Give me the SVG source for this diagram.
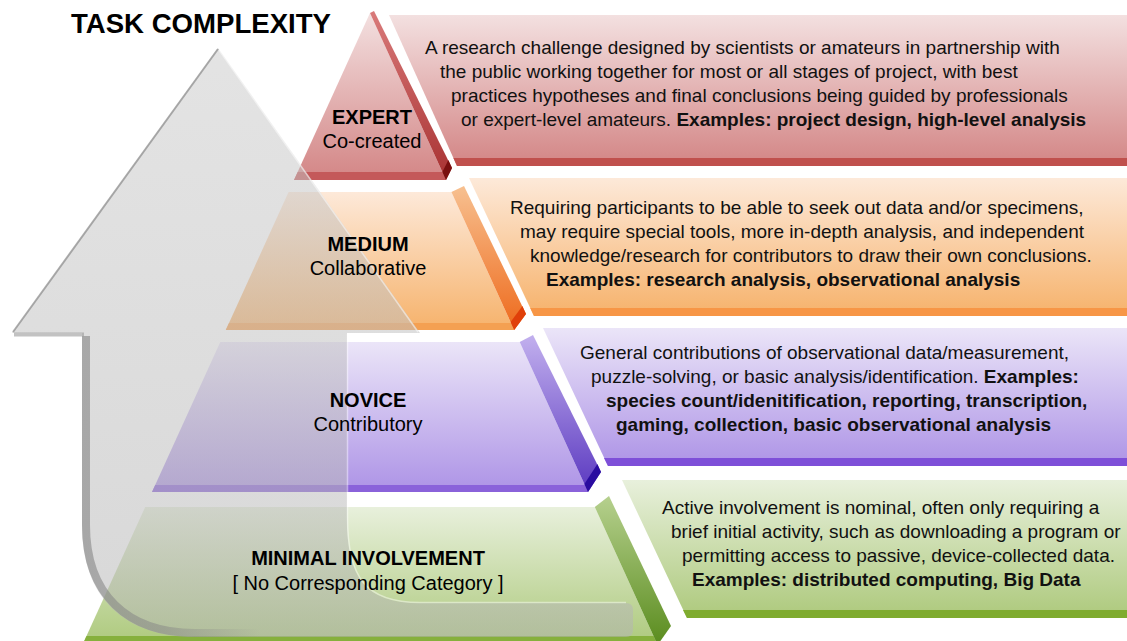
<svg xmlns="http://www.w3.org/2000/svg" width="1127" height="641" viewBox="0 0 1127 641">
<defs>
<style>
.title{font-family:"Liberation Sans",Arial,sans-serif;font-weight:bold;font-size:27.5px;fill:#000}
.lb{font-family:"Liberation Sans",Arial,sans-serif;font-weight:bold;font-size:20px;fill:#000;text-anchor:middle}
.ln{font-family:"Liberation Sans",Arial,sans-serif;font-size:20px;fill:#000;text-anchor:middle}
.d{font-family:"Liberation Sans",Arial,sans-serif;font-size:19px;fill:#111}
.b{font-weight:bold}
</style>
<linearGradient id="gR" x1="0" y1="0" x2="0" y2="1"><stop offset="0" stop-color="#f3e0e0"/><stop offset="1" stop-color="#d38585"/></linearGradient>
<linearGradient id="gO" x1="0" y1="0" x2="0" y2="1"><stop offset="0" stop-color="#fde9d9"/><stop offset="1" stop-color="#f6b26b"/></linearGradient>
<linearGradient id="gP" x1="0" y1="0" x2="0" y2="1"><stop offset="0" stop-color="#ebe5f8"/><stop offset="1" stop-color="#ad93e6"/></linearGradient>
<linearGradient id="gG" x1="0" y1="0" x2="0" y2="1"><stop offset="0" stop-color="#e8f0dc"/><stop offset="1" stop-color="#adc97c"/></linearGradient>
<linearGradient id="bR" x1="0" y1="0" x2="0" y2="1"><stop offset="0" stop-color="#d97a7a"/><stop offset="1" stop-color="#a83232"/></linearGradient>
<linearGradient id="bO" x1="0" y1="0" x2="0" y2="1"><stop offset="0" stop-color="#f7c090"/><stop offset="1" stop-color="#ee6a1c"/></linearGradient>
<linearGradient id="bP" x1="0" y1="0" x2="0" y2="1"><stop offset="0" stop-color="#c2b0ee"/><stop offset="1" stop-color="#5a38c0"/></linearGradient>
<linearGradient id="bG" x1="0" y1="0" x2="0" y2="1"><stop offset="0" stop-color="#b6d08e"/><stop offset="1" stop-color="#5a8c1e"/></linearGradient>
<linearGradient id="gA" x1="0" y1="0" x2="0" y2="1"><stop offset="0" stop-color="#cacaca"/><stop offset="1" stop-color="#b4b4b4"/></linearGradient>
<linearGradient id="edge" gradientUnits="userSpaceOnUse" x1="86" y1="0" x2="260" y2="0"><stop offset="0" stop-color="#858585" stop-opacity="0.6"/><stop offset="0.45" stop-color="#858585" stop-opacity="0.5"/><stop offset="1" stop-color="#858585" stop-opacity="0"/></linearGradient>
</defs>
<rect width="1127" height="641" fill="#fff"/>

<g id="title"><text class="title" x="71" y="33" textLength="260" lengthAdjust="spacingAndGlyphs">TASK COMPLEXITY</text></g>

<g id="expert">
<polygon points="389,15 1127,15 1127,166 457,166" fill="url(#gR)"/>
<polygon points="453.4,158 1127,158 1127,166 457,166" fill="#c0504d"/>
<polygon points="370,13 446,180 294,180" fill="url(#gR)"/>
<polygon points="297.7,172 442.3,172 446,180 294,180" fill="#c4595a"/>
<polygon points="370,13 374,11 452,168 446,180" fill="url(#bR)"/>
<polygon points="446,180 452,168 448.4,160 442.4,172" fill="#7a1010"/>
<text class="d" x="425" y="54">A research challenge designed by scientists or amateurs in partnership with</text>
<text class="d" x="440" y="78">the public working together for most or all stages of project, with best</text>
<text class="d" x="451" y="102">practices hypotheses and final conclusions being guided by professionals</text>
<text class="d" x="461" y="126">or expert-level amateurs. <tspan class="b">Examples: project design, high-level analysis</tspan></text>
</g>

<g id="medium">
<polygon points="469,178 1127,178 1127,316 534,316" fill="url(#gO)"/>
<polygon points="530.2,308 1127,308 1127,316 534,316" fill="#f79646"/>
<polygon points="288.6,192 451.4,192 514.2,330 225.8,330" fill="url(#gO)"/>
<polygon points="229,323 511,323 514.2,330 225.8,330" fill="#f4a052"/>
<polygon points="451.4,192 464,186 526,314 514.2,330" fill="url(#bO)"/>
<polygon points="514.2,330 526,314 522.4,306 510.6,322" fill="#e0400a"/>
<text class="d" x="510" y="214">Requiring participants to be able to seek out data and/or specimens,</text>
<text class="d" x="520" y="238">may require special tools, more in-depth analysis, and independent</text>
<text class="d" x="530" y="262">knowledge/research for contributors to draw their own conclusions.</text>
<text class="d b" x="546" y="286">Examples: research analysis, observational analysis</text>
</g>

<g id="novice">
<polygon points="543,328 1127,328 1127,466 608,466" fill="url(#gP)"/>
<polygon points="604,458 1127,458 1127,466 608,466" fill="#7e4fd8"/>
<polygon points="220.3,342 519.7,342 588,492 152,492" fill="url(#gP)"/>
<polygon points="155.2,485 584.8,485 588,492 152,492" fill="#8a62da"/>
<polygon points="519.7,342 533,335 601,472 588,492" fill="url(#bP)"/>
<polygon points="588,492 601,472 597.4,464 584.4,484" fill="#2a0ca0"/>
<text class="d" x="580" y="359">General contributions of observational data/measurement,</text>
<text class="d" x="591" y="383">puzzle-solving, or basic analysis/identification. <tspan class="b">Examples:</tspan></text>
<text class="d b" x="606" y="407">species count/idenitification, reporting, transcription,</text>
<text class="d b" x="616" y="431">gaming, collection, basic observational analysis</text>
</g>

<g id="minimal">
<polygon points="622,480 1127,480 1127,618 687,618" fill="url(#gG)"/>
<polygon points="683,610 1127,610 1127,618 687,618" fill="#7fac2f"/>
<polygon points="145.2,507 594.8,507 657.6,645 82.4,645" fill="url(#gG)"/>
<polygon points="86.5,636 653.5,636 657.6,645 82.4,645" fill="#86b03c"/>
<polygon points="594.8,507 609,496 671,626 657.6,645" fill="url(#bG)"/>
<text class="d" x="662" y="514">Active involvement is nominal, often only requiring a</text>
<text class="d" x="671" y="538">brief initial activity, such as downloading a program or</text>
<text class="d" x="682" y="562">permitting access to passive, device-collected data.</text>
<text class="d b" x="692" y="586">Examples: distributed computing, Big Data</text>
</g>

<g id="connectors">
<path d="M218,48 L420,333 L347,333 L347,517 C347,578 365,603 420,603 L626,603 Q633,603 633,610 L633,630 Q633,637 626,637 L195,637 C125,637 82,598 82,525 L82,333 L12,333 Z" fill="url(#gA)" fill-opacity="0.52"/>
<path d="M86,336 L86,525 C86,594 127,633 195,633 L260,633" fill="none" stroke="url(#edge)" stroke-width="8"/>
<path d="M218,49 L13,332" fill="none" stroke="#8a8a8a" stroke-width="2" stroke-opacity="0.7"/>
<path d="M14,334.5 L84,334.5" fill="none" stroke="#9a9a9a" stroke-width="4" stroke-opacity="0.6"/>
<path d="M219,50 L418,332" fill="none" stroke="#ffffff" stroke-width="1.5" stroke-opacity="0.5"/>
<path d="M347.5,334 L347.5,517 C347.5,577 365,602.5 420,602.5 L626,602.5" fill="none" stroke="#ffffff" stroke-width="1.5" stroke-opacity="0.45"/>
</g>

<g id="labels">
<g id="label-expert"><text class="lb" x="372" y="124">EXPERT</text><text class="ln" x="372" y="148">Co-created</text></g>
<g id="label-medium"><text class="lb" x="368" y="251">MEDIUM</text><text class="ln" x="368" y="275">Collaborative</text></g>
<g id="label-novice"><text class="lb" x="368" y="407">NOVICE</text><text class="ln" x="368" y="431">Contributory</text></g>
<g id="label-minimal"><text class="lb" x="368" y="565">MINIMAL INVOLVEMENT</text><text class="ln" x="368" y="590">[ No Corresponding Category ]</text></g>
</g>
</svg>
